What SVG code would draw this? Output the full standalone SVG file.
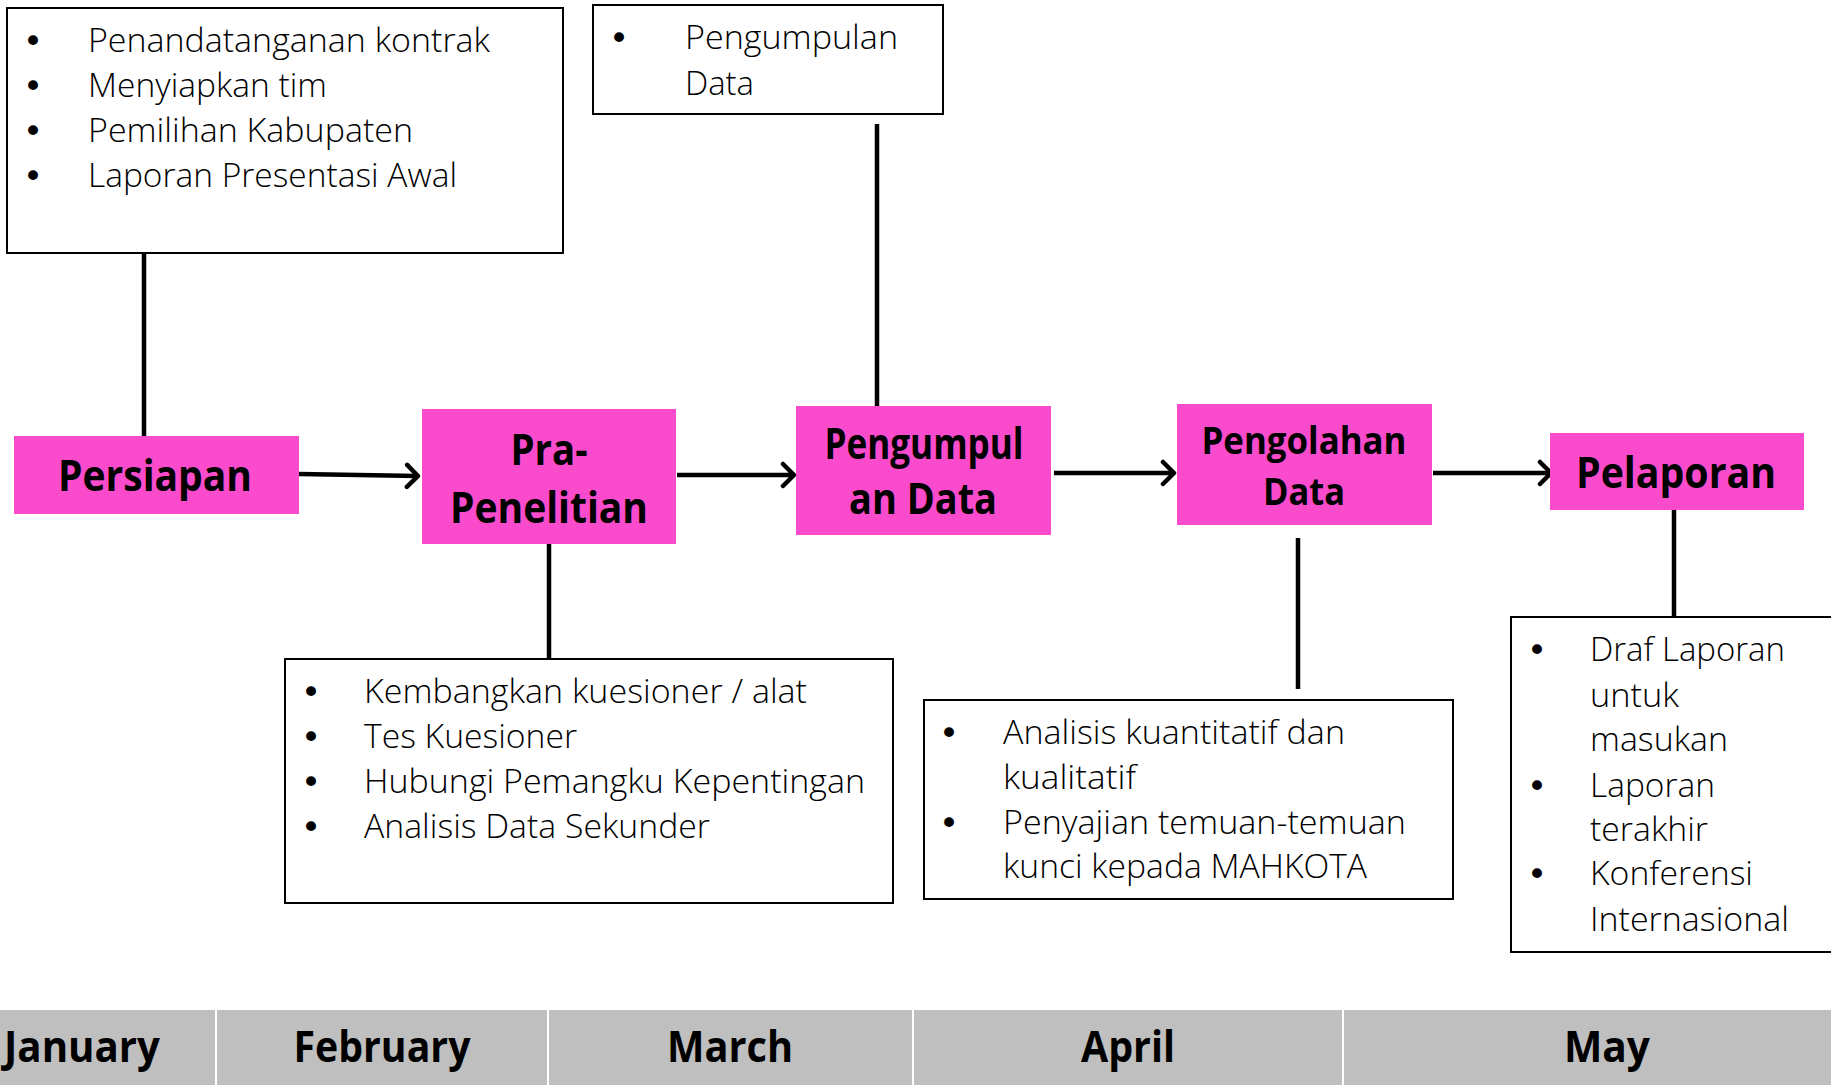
<svg xmlns="http://www.w3.org/2000/svg" width="1831" height="1085" viewBox="0 0 1831 1085">
<style>
.box{fill:#fff;stroke:#000;stroke-width:2}
.node{fill:#F94BCB}
.t{font-family:"Open Sans","Liberation Sans",sans-serif;font-weight:300;font-size:33px;fill:#000}
.u{font-family:"DejaVu Sans",sans-serif;font-size:34px;fill:#000}
.b{font-family:"Open Sans","Liberation Sans",sans-serif;font-weight:700;font-size:43px;fill:#000;text-anchor:middle}
.s{font-size:38px}
.m{font-family:"Open Sans","Liberation Sans",sans-serif;font-weight:700;font-size:43px;fill:#000;text-anchor:middle}
.c{stroke:#000;stroke-width:4.5;fill:none}
</style>
<defs>
<marker id="arr" markerUnits="userSpaceOnUse" markerWidth="20" markerHeight="28" refX="15" refY="14" orient="auto">
<path d="M4,3 L15,14 L4,25" fill="none" stroke="#000" stroke-width="4.5" stroke-linecap="round" stroke-linejoin="round"/>
</marker>
</defs>
<rect width="1831" height="1085" fill="#fff"/>

<g id="connectors">
<line class="c" x1="144" y1="249" x2="144" y2="436"/>
<line class="c" x1="877" y1="124" x2="877" y2="408"/>
<line class="c" x1="549" y1="544" x2="549" y2="659"/>
<line class="c" x1="1298" y1="538" x2="1298" y2="689"/>
<line class="c" x1="1674" y1="510" x2="1674" y2="617"/>
<line class="c" x1="299" y1="474" x2="418" y2="476" marker-end="url(#arr)"/>
<line class="c" x1="677" y1="475" x2="794" y2="475" marker-end="url(#arr)"/>
<line class="c" x1="1054" y1="473" x2="1174" y2="473" marker-end="url(#arr)"/>
<line class="c" x1="1433" y1="473" x2="1551" y2="473" marker-end="url(#arr)"/>
</g>

<g id="box-persiapan">
<rect class="box" x="7" y="8" width="556" height="245"/>
<text class="u" x="23" y="53">•</text><text class="t" x="88" y="52" textLength="402" lengthAdjust="spacingAndGlyphs">Penandatanganan kontrak</text>
<text class="u" x="23" y="98">•</text><text class="t" x="88" y="97" textLength="239" lengthAdjust="spacingAndGlyphs">Menyiapkan tim</text>
<text class="u" x="23" y="143">•</text><text class="t" x="88" y="142" textLength="325" lengthAdjust="spacingAndGlyphs">Pemilihan Kabupaten</text>
<text class="u" x="23" y="188">•</text><text class="t" x="88" y="187" textLength="369" lengthAdjust="spacingAndGlyphs">Laporan Presentasi Awal</text>
</g>

<g id="box-pengumpulan">
<rect class="box" x="593" y="5" width="350" height="109"/>
<text class="u" x="609" y="50">•</text><text class="t" x="685" y="49" textLength="213" lengthAdjust="spacingAndGlyphs">Pengumpulan</text>
<text class="t" x="685" y="95" textLength="69" lengthAdjust="spacingAndGlyphs">Data</text>
</g>

<g id="box-prapenelitian">
<rect class="box" x="285" y="659" width="608" height="244"/>
<text class="u" x="301" y="704">•</text><text class="t" x="364" y="703" textLength="443" lengthAdjust="spacingAndGlyphs">Kembangkan kuesioner / alat</text>
<text class="u" x="301" y="749">•</text><text class="t" x="364" y="748" textLength="213" lengthAdjust="spacingAndGlyphs">Tes Kuesioner</text>
<text class="u" x="301" y="794">•</text><text class="t" x="364" y="793" textLength="501" lengthAdjust="spacingAndGlyphs">Hubungi Pemangku Kepentingan</text>
<text class="u" x="301" y="839">•</text><text class="t" x="364" y="838" textLength="346" lengthAdjust="spacingAndGlyphs">Analisis Data Sekunder</text>
</g>

<g id="box-pengolahan">
<rect class="box" x="924" y="700" width="529" height="199"/>
<text class="u" x="939" y="745">•</text><text class="t" x="1003" y="744" textLength="342" lengthAdjust="spacingAndGlyphs">Analisis kuantitatif dan</text>
<text class="t" x="1003" y="789" textLength="133" lengthAdjust="spacingAndGlyphs">kualitatif</text>
<text class="u" x="939" y="835">•</text><text class="t" x="1003" y="834" textLength="403" lengthAdjust="spacingAndGlyphs">Penyajian temuan-temuan</text>
<text class="t" x="1003" y="878" textLength="364" lengthAdjust="spacingAndGlyphs">kunci kepada MAHKOTA</text>
</g>

<g id="box-pelaporan">
<rect class="box" x="1511" y="617" width="330" height="335"/>
<text class="u" x="1527" y="662">•</text><text class="t" x="1590" y="661" textLength="195" lengthAdjust="spacingAndGlyphs">Draf Laporan</text>
<text class="t" x="1590" y="707" textLength="89" lengthAdjust="spacingAndGlyphs">untuk</text>
<text class="t" x="1590" y="751" textLength="138" lengthAdjust="spacingAndGlyphs">masukan</text>
<text class="u" x="1527" y="798">•</text><text class="t" x="1590" y="797" textLength="125" lengthAdjust="spacingAndGlyphs">Laporan</text>
<text class="t" x="1590" y="841" textLength="118" lengthAdjust="spacingAndGlyphs">terakhir</text>
<text class="u" x="1527" y="886">•</text><text class="t" x="1590" y="885" textLength="163" lengthAdjust="spacingAndGlyphs">Konferensi</text>
<text class="t" x="1590" y="931" textLength="199" lengthAdjust="spacingAndGlyphs">Internasional</text>
</g>

<g id="node-persiapan">
<rect class="node" x="14" y="436" width="285" height="78"/>
<text class="b" x="155" y="491" textLength="194" lengthAdjust="spacingAndGlyphs">Persiapan</text>
</g>
<g id="node-prapenelitian">
<rect class="node" x="422" y="409" width="254" height="135"/>
<text class="b" x="549" y="465" textLength="77" lengthAdjust="spacingAndGlyphs">Pra-</text>
<text class="b" x="549" y="523" textLength="198" lengthAdjust="spacingAndGlyphs">Penelitian</text>
</g>
<g id="node-pengumpulan">
<rect class="node" x="796" y="406" width="255" height="129"/>
<text class="b" x="924" y="459" textLength="199" lengthAdjust="spacingAndGlyphs">Pengumpul</text>
<text class="b" x="923" y="514" textLength="148" lengthAdjust="spacingAndGlyphs">an Data</text>
</g>
<g id="node-pengolahan">
<rect class="node" x="1177" y="404" width="255" height="121"/>
<text class="b s" x="1304" y="454" textLength="205" lengthAdjust="spacingAndGlyphs">Pengolahan</text>
<text class="b s" x="1304" y="505" textLength="82" lengthAdjust="spacingAndGlyphs">Data</text>
</g>
<g id="node-pelaporan">
<rect class="node" x="1550" y="433" width="254" height="77"/>
<text class="b" x="1676" y="488" textLength="200" lengthAdjust="spacingAndGlyphs">Pelaporan</text>
</g>

<g id="months">
<rect x="0" y="1009" width="1831" height="76" fill="#BFBFBF"/>
<line x1="0" y1="1009" x2="1831" y2="1009" stroke="#fff" stroke-width="2"/>
<line x1="216" y1="1009" x2="216" y2="1085" stroke="#fff" stroke-width="2"/>
<line x1="548" y1="1009" x2="548" y2="1085" stroke="#fff" stroke-width="2"/>
<line x1="913" y1="1009" x2="913" y2="1085" stroke="#fff" stroke-width="2"/>
<line x1="1343" y1="1009" x2="1343" y2="1085" stroke="#fff" stroke-width="2"/>
<text class="m" x="82" y="1062" textLength="156" lengthAdjust="spacingAndGlyphs">January</text>
<text class="m" x="382" y="1062" textLength="177" lengthAdjust="spacingAndGlyphs">February</text>
<text class="m" x="730" y="1062" textLength="126" lengthAdjust="spacingAndGlyphs">March</text>
<text class="m" x="1128" y="1062" textLength="94" lengthAdjust="spacingAndGlyphs">April</text>
<text class="m" x="1607" y="1062" textLength="86" lengthAdjust="spacingAndGlyphs">May</text>
</g>
</svg>
